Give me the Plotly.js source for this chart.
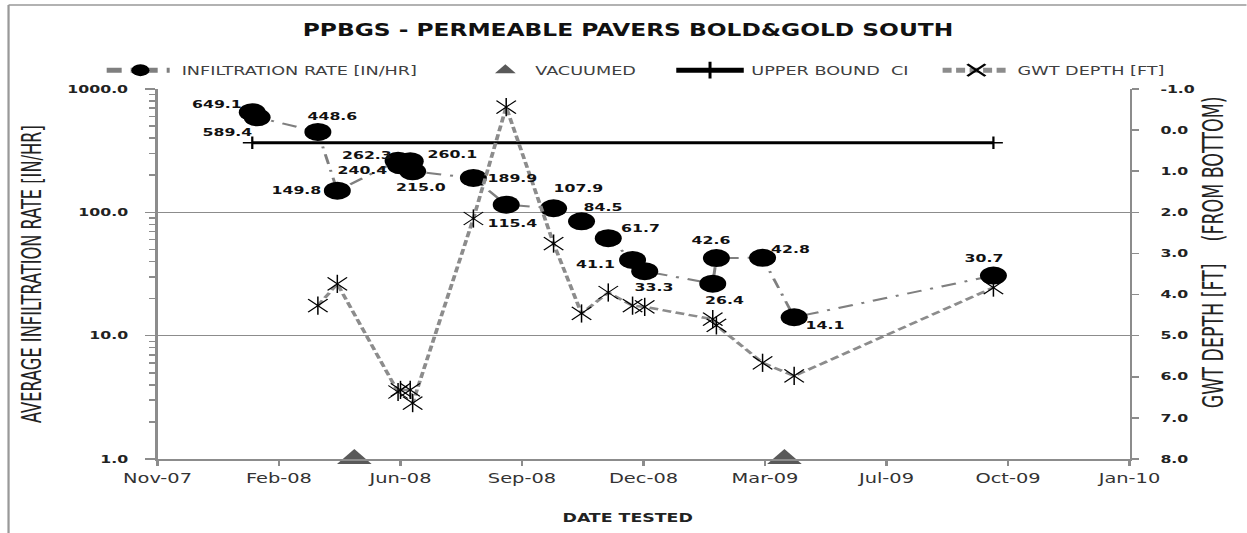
<!DOCTYPE html>
<html>
<head>
<meta charset="utf-8">
<script src="https://cdn.plot.ly/plotly-3.0.1.min.js"></script>
<style>
  html, body { margin: 0; padding: 0; background: #fff; overflow: hidden; }
  #wrap { width: 1247px; height: 533px; overflow: hidden; }
  #chart { width: 831.333px; height: 533px; transform: scaleX(1.5); transform-origin: 0 0; }
</style>
</head>
<body>
<div id="wrap"><div id="chart"></div></div>
<script>
// ---- data ----
const testDates = ['2008-02-01','2008-02-05','2008-03-26','2008-04-11','2008-05-31','2008-06-02','2008-06-10','2008-06-12','2008-08-01','2008-08-28','2008-10-06','2008-10-29','2008-11-20','2008-12-10','2008-12-20','2009-02-14','2009-02-17','2009-03-27','2009-04-22','2009-10-03'];
const infiltrationRate = [649.1,589.4,448.6,149.8,262.3,240.4,260.1,215.0,189.9,115.4,107.9,84.5,61.7,41.1,33.3,26.4,42.6,42.8,14.1,30.7];
const gwtDepth = [null,null,4.27,3.74,6.37,6.32,6.32,6.64,2.15,-0.56,2.76,4.46,3.95,4.27,4.30,4.60,4.75,5.66,5.98,3.83];
const vacuumDates = ['2008-04-25','2009-04-14'];
const vacuumValues = [1,1];
const upperBoundDates = ['2008-02-01','2009-10-03'];
const upperBoundValues = [367,367];
const tickDates = ['2007-11-15','2008-02-23','2008-06-02','2008-09-10','2008-12-19','2009-03-29','2009-07-07','2009-10-15','2010-01-23'];
const tickLabels = ['Nov-07','Feb-08','Jun-08','Sep-08','Dec-08','Mar-09','Jul-09','Oct-09','Jan-10'];
const leftTickValues = [1,10,100,1000];
const leftTickLabels = ['1.0','10.0','100.0','1000.0'];
const rightTickValues = [-1,0,1,2,3,4,5,6,7,8];
const rightTickLabels = ['-1.0','0.0','1.0','2.0','3.0','4.0','5.0','6.0','7.0','8.0'];

// data-label offsets in px (style only)
const labelDX = [-24,-20,10,-27,-21,-26,28,5,26,4,16,14,21,-25,6,8,-4,19,21,-6];
const labelDY = [8,-15,16,1,6,-5,7,-16,0,-18,20,14,10,-4,-16,-16,18,9,-8,18];

const TITLE_TXT = 'PPBGS - PERMEABLE PAVERS BOLD&GOLD SOUTH';
const YTITLE_TXT = 'AVERAGE INFILTRATION RATE [IN/HR]';
const Y2TITLE_TXT = 'GWT DEPTH [FT] \u00a0\u00a0\u00a0(FROM BOTTOM)';
const XTITLE_TXT = 'DATE TESTED';

// ---- pick a condensed face if one is installed, and fit text sizes to the reference widths ----
const ctx = document.createElement('canvas').getContext('2d');
function fontAvailable(name) {
  const probe = 'PERMEABLE Wwxyz 0123';
  for (const base of ['monospace', 'serif']) {
    ctx.font = '100px ' + base; const a = ctx.measureText(probe).width;
    ctx.font = '100px "' + name + '", ' + base; const b = ctx.measureText(probe).width;
    if (a !== b) return true;
  }
  return false;
}
const condensed = ['Liberation Sans Narrow', 'DejaVu Sans Condensed', 'Roboto Condensed', 'Noto Sans Condensed', 'Open Sans Condensed']
  .find(fontAvailable);
const NARROW = (condensed ? '"' + condensed + '", ' : '') + '"Liberation Sans", Arial, sans-serif';
function fit(text, bold, target, maxSize) {
  ctx.font = (bold ? 'bold ' : '') + '100px ' + NARROW;
  const w = ctx.measureText(text).width;
  return Math.min(maxSize, 100 * target / w);
}
const titleSize = fit(TITLE_TXT, true, 434, 23);
const legendSize = fit('INFILTRATION RATE [IN/HR]', false, 157, 15);
const yTitleSize = fit(YTITLE_TXT, false, 298, 21);
const y2TitleSize = fit(Y2TITLE_TXT, false, 312, 21);
const xTitleSize = fit(XTITLE_TXT, true, 87, 18);
const xTickSize = fit('Nov-07', false, 46, 17);

const LBL = '"DejaVu Sans", Verdana, sans-serif';
const GRAY = '#8c8c8c';

const traces = [
  {
    name: 'INFILTRATION RATE [IN/HR]', x: testDates, y: infiltrationRate, yaxis: 'y',
    mode: 'lines+markers',
    line: {color: '#7f7f7f', width: 2, dash: '10px,6px,2px,6px'},
    marker: {symbol: 'circle', size: 18, color: '#000'},
    cliponaxis: false, legend: 'legend'
  },
  {
    name: 'VACUUMED', x: vacuumDates, y: vacuumValues, yaxis: 'y', mode: 'markers',
    marker: {symbol: 'triangle-up', size: 20, color: '#595959'},
    cliponaxis: false, legend: 'legend2'
  },
  {
    name: 'UPPER BOUND \u00a0CI', x: upperBoundDates, y: upperBoundValues, yaxis: 'y', mode: 'lines+markers',
    line: {color: '#000', width: 3},
    marker: {symbol: 'cross-thin-open', size: 9, color: '#000', line: {color: '#000', width: 1.5}},
    legend: 'legend3'
  },
  {
    name: 'GWT DEPTH [FT]', x: testDates, y: gwtDepth, yaxis: 'y2', mode: 'lines+markers',
    line: {color: '#8c8c8c', width: 2.5, dash: '6px,3px'},
    marker: {symbol: 'x-thin-open', size: 13, color: '#000', line: {color: '#111', width: 1}},
    cliponaxis: false, legend: 'legend4'
  },
  {
    name: 'GWT DEPTH [FT]', x: testDates, y: gwtDepth, yaxis: 'y2', mode: 'markers',
    marker: {symbol: 'line-ns-open', size: 13, color: '#000', line: {color: '#111', width: 1}},
    cliponaxis: false, showlegend: false
  }
];

const labelAnnotations = infiltrationRate.map((v, i) => ({
  x: testDates[i], y: Math.log10(v), xref: 'x', yref: 'y',
  text: v.toFixed(1), showarrow: false, xanchor: 'center', yanchor: 'middle',
  xshift: labelDX[i], yshift: labelDY[i],
  font: {family: LBL, size: 10.5, weight: 'bold', color: '#111'}
}));

const W = 831.333;
const plotL = 104.7, plotR = 753.3, plotT = 89, plotB = 459;
const legendBase = {orientation: 'h', yanchor: 'middle', y: 1.051, xanchor: 'left',
  font: {family: NARROW, size: legendSize, color: '#404040'}, bgcolor: 'rgba(0,0,0,0)', itemsizing: 'constant'};

const layout = {
  width: W, height: 533,
  margin: {l: plotL, r: W - plotR, t: plotT, b: 533 - plotB, pad: 0},
  paper_bgcolor: '#fff', plot_bgcolor: '#fff',
  title: {text: TITLE_TXT, x: 0.5036, xref: 'container', xanchor: 'center',
          y: 1 - 30/533, yref: 'container', yanchor: 'middle',
          font: {family: NARROW, size: titleSize, weight: 'bold', color: '#111'}},
  showlegend: true,
  legend: Object.assign({}, legendBase, {x: -0.06, itemwidth: 45}),
  legend2: Object.assign({}, legendBase, {x: 0.327, itemwidth: 30}),
  legend3: Object.assign({}, legendBase, {x: 0.526, itemwidth: 45}),
  legend4: Object.assign({}, legendBase, {x: 0.80, itemwidth: 45}),
  xaxis: {
    type: 'date', range: [tickDates[0], tickDates[tickDates.length - 1]],
    tickmode: 'array', tickvals: tickDates, ticktext: tickLabels,
    ticks: 'outside', ticklen: 5, tickwidth: 1.5, tickcolor: GRAY,
    showline: true, linecolor: GRAY, linewidth: 1.5, showgrid: false, zeroline: false,
    tickfont: {family: NARROW, size: xTickSize, color: '#333'},
    automargin: false
  },
  yaxis: {
    type: 'log', range: [0, 3], tickmode: 'array', tickvals: leftTickValues, ticktext: leftTickLabels,
    ticks: 'outside', ticklen: 7, tickwidth: 1.5, tickcolor: GRAY,
    minor: {dtick: 'D1', ticks: 'outside', ticklen: 4, tickcolor: GRAY, showgrid: false},
    showline: true, linecolor: GRAY, linewidth: 1.5,
    showgrid: true, gridcolor: GRAY, gridwidth: 1.5, zeroline: false,
    tickfont: {family: LBL, size: 10.5, weight: 'bold', color: '#222'},
    ticklabelstandoff: 9,
    title: {text: YTITLE_TXT, standoff: 12, font: {family: NARROW, size: yTitleSize, color: '#222'}},
    automargin: false
  },
  yaxis2: {
    overlaying: 'y', side: 'right', range: [8, -1], tickmode: 'array', tickvals: rightTickValues, ticktext: rightTickLabels,
    ticks: 'outside', ticklen: 5, tickwidth: 1.5, tickcolor: GRAY,
    showline: true, linecolor: GRAY, linewidth: 1.5, showgrid: false, zeroline: false,
    tickfont: {family: LBL, size: 10.5, weight: 'bold', color: '#222'},
    ticklabelstandoff: 12,
    automargin: false
  },
  annotations: labelAnnotations.concat([
    {text: Y2TITLE_TXT, xref: 'paper', yref: 'paper',
     x: (808.7 - plotL)/(plotR - plotL), y: (plotB - 252)/(plotB - plotT), textangle: -90,
     xanchor: 'center', yanchor: 'middle', showarrow: false,
     font: {family: NARROW, size: y2TitleSize, color: '#222'}},
    {text: XTITLE_TXT, xref: 'paper', yref: 'paper',
     x: (418.7 - plotL)/(plotR - plotL), y: (plotB - 517)/(plotB - plotT),
     xanchor: 'center', yanchor: 'middle', showarrow: false,
     font: {family: NARROW, size: xTitleSize, weight: 'bold', color: '#222'}}
  ]),
  shapes: [
    {type: 'line', xref: 'paper', yref: 'paper', x0: (5.3 - plotL)/(plotR - plotL), x1: (5.3 - plotL)/(plotR - plotL),
     y0: (plotB - 5)/(plotB - plotT), y1: (plotB - 540)/(plotB - plotT), line: {color: '#999', width: 1.5}},
    {type: 'line', xref: 'paper', yref: 'paper', x0: (5.3 - plotL)/(plotR - plotL), x1: (840 - plotL)/(plotR - plotL),
     y0: (plotB - 5)/(plotB - plotT), y1: (plotB - 5)/(plotB - plotT), line: {color: '#999', width: 1.5}}
  ]
};

Plotly.newPlot('chart', traces, layout, {displayModeBar: false, staticPlot: true});
</script>
</body>
</html>
